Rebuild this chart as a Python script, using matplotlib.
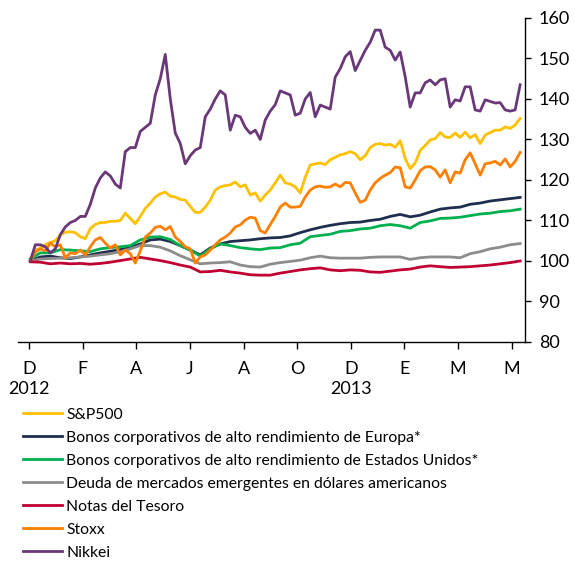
import numpy as np
import matplotlib
matplotlib.use("Agg")
import matplotlib.pyplot as plt

plt.rcParams['font.family'] = ['Lato', 'DejaVu Sans']

# index values (base 100)
sp500 = [100.5, 102.7, 103.2, 104, 104.6, 105, 106.4, 107.1, 107.2, 107, 106, 105.5, 108, 109, 109.5,
         109.5, 109.8, 109.8, 110, 111.8, 110.5, 109.2, 111, 113, 114.3, 115.8, 116.6, 117, 116, 115.8,
         115.2, 115, 113.5, 112, 112, 113.3, 115, 117.5, 118.3, 118.6, 118.8, 119.5, 118.3, 118.8, 116.3,
         116.8, 114.8, 116.3, 117.5, 119.3, 121.2, 119.3, 119, 118.3, 116.8, 120.7, 123.7, 124, 124.2,
         123.8, 125, 125.6, 126.2, 126.5, 127, 126.5, 125, 126, 128, 128.8, 129, 128.6, 128.8, 128.1,
         129.7, 125.3, 122.8, 124.2, 127.3, 128.5, 129.9, 130.2, 131.7, 130.6, 130.5, 131.6, 130.5, 131.8,
         130.4, 131.2, 129, 131.1, 131.7, 132.3, 132.3, 133.1, 132.7, 133.6, 135.2]

hy_europa = [100, 101, 101.2, 100.8, 100.6, 101, 101.5, 102, 102.4, 102.8, 103.4, 104.2, 105.2, 105.4,
             104.8, 103.8, 102.7, 101.5, 103.2, 104.2, 104.8, 105, 105.2, 105.5, 105.7, 105.8, 106.2,
             107, 107.7, 108.3, 108.8, 109.2, 109.5, 109.6, 110, 110.3, 111, 111.5, 110.9, 111.3, 112.1,
             112.8, 113.1, 113.3, 114, 114.3, 114.8, 115.1, 115.4, 115.7]

hy_eeuu = [100.5, 102, 102, 102.8, 102.7, 102.5, 102.3, 103, 103.3, 103.5, 103.8, 105.2, 105.9, 106,
           105.3, 103.8, 102.7, 101.2, 103, 104.2, 103.8, 103.3, 103, 102.8, 103.2, 103.3, 104, 104.4,
           106, 106.3, 106.6, 107.3, 107.5, 107.9, 108.1, 108.7, 109, 108.7, 108.1, 109.5, 109.9, 110.5,
           110.6, 110.8, 111.2, 111.6, 111.8, 112.2, 112.4, 112.8]

em_debt = [100, 100.5, 100.6, 100.7, 100.8, 101, 101.2, 101.5, 101.8, 102.3, 103, 103.8, 103.8, 103.4,
           102.5, 101.3, 100.3, 99.3, 99.5, 99.6, 99.8, 99, 98.6, 98.5, 99.2, 99.6, 99.9, 100.2, 100.8,
           101.2, 100.8, 100.7, 100.7, 100.7, 100.9, 101, 101, 101, 100.4, 100.8, 101, 101, 101, 100.8,
           101.8, 102.3, 103, 103.4, 104, 104.3]

treasury = [99.8, 99.7, 99.3, 99.5, 99.3, 99.4, 99.2, 99.4, 99.7, 100.1, 100.5, 100.9, 100.5, 100.1,
            99.6, 99, 98.5, 97.3, 97.4, 97.7, 97.3, 97, 96.6, 96.5, 96.5, 97, 97.4, 97.8, 98.1, 98.3,
            97.8, 97.6, 97.8, 97.7, 97.3, 97.2, 97.5, 97.8, 98, 98.5, 98.8, 98.6, 98.4, 98.5, 98.6, 98.8,
            99, 99.3, 99.6, 100]

stoxx = [100.2, 102.2, 103, 102.5, 104.4, 103.5, 104, 100.8, 102, 101.8, 102.7, 101.5, 103.5, 105.2,
         105.8, 104.4, 103.2, 104, 101.5, 102.7, 101.8, 99.5, 102.5, 105.9, 106.9, 108.3, 108.6, 107.7,
         108.5, 105.9, 104.8, 103.5, 103, 99.5, 101, 101.5, 102.7, 104, 105.2, 105.9, 106.9, 108.4,
         108.9, 110.1, 110.8, 110.6, 107.5, 106.9, 109, 111, 113.3, 114.3, 113.3, 113.3, 113.5, 115.8,
         117.5, 118.3, 118.5, 118.2, 118.3, 119, 118.3, 119.4, 119.3, 116.8, 114.5, 115, 117.5, 119.3,
         120.4, 121.2, 121.8, 123.2, 123, 118.3, 118, 120, 122.3, 123.2, 123.3, 122.5, 120.7, 122.5,
         119.3, 122, 121.7, 125, 126.7, 124, 121.2, 124, 124.2, 124.6, 123.7, 125.2, 123.2, 124.6, 126.8]

nikkei = [100, 104, 104, 103.5, 102, 103, 106.5, 108.4, 109.5, 110, 111, 111, 114, 118, 120.5, 122,
          121, 119, 118, 127, 128, 128, 132, 133, 134, 141, 145, 151, 140, 131.6, 129, 124, 126, 127.4,
          128, 135.6, 137.5, 140, 142, 141, 132.3, 136, 135.6, 133, 131.5, 132.3, 130, 134.8, 137, 138.6,
          142, 141.5, 141, 136, 136.5, 140, 141.6, 135.6, 138.5, 138, 137.5, 145.4, 147.5, 150.4, 151.7,
          147, 149.5, 152, 154, 157, 157, 152.8, 152, 149.6, 151.6, 145.5, 138, 141.5, 141.5, 144, 144.7,
          143.5, 144.7, 145, 138, 139.8, 139.5, 143, 143, 137.3, 137, 139.8, 139.4, 139, 139.1, 137.3,
          137, 137.3, 143.5]

series_names = ['S&P500',
                'Bonos corporativos de alto rendimiento de Europa*',
                'Bonos corporativos de alto rendimiento de Estados Unidos*',
                'Deuda de mercados emergentes en dólares americanos',
                'Notas del Tesoro',
                'Stoxx',
                'Nikkei']
series_colors = ['#FFC000', '#1F2E4E', '#00B050', '#8C8C8C', '#C00033', '#FF7F00', '#6A3878']

month_labels = ['D\n2012', 'F', 'A', 'J', 'A', 'O', 'D\n2013', 'E', 'M', 'M']

fig = plt.figure(figsize=(5.75, 5.65), dpi=100)
ax = fig.add_axes([0.0313, 0.3947, 0.8817, 0.5735])

all_series = [sp500, hy_europa, hy_eeuu, em_debt, treasury, stoxx, nikkei]
for values, name, color in zip(all_series, series_names, series_colors):
    x = np.linspace(0.02, 9.16, len(values))
    ax.plot(x, values, color=color, lw=2.0, label=name, solid_joinstyle='round')

ax.set_xlim(-0.21, 9.25)
ax.set_ylim(80, 160)
ax.set_yticks(range(80, 161, 10))
ax.set_xticks(range(len(month_labels)))
ax.set_xticklabels(month_labels, linespacing=1.3)

ax.spines['top'].set_visible(False)
ax.spines['left'].set_visible(False)
ax.spines['right'].set_linewidth(1.0)
ax.spines['bottom'].set_linewidth(1.0)
ax.yaxis.tick_right()
ax.tick_params(axis='y', direction='out', length=4, width=1, labelsize=13, pad=6, colors='black')
ax.tick_params(axis='x', direction='out', length=5, width=1, labelsize=13, pad=9, colors='black')

handles, labels = ax.get_legend_handles_labels()
fig.legend(handles, labels, loc='upper left', bbox_to_anchor=(0.029, 0.289), frameon=False,
           fontsize=11.3, handlelength=2.5, handletextpad=0.25, labelspacing=0.57, borderaxespad=0)

fig.savefig('out.png', dpi=100, facecolor='white')
